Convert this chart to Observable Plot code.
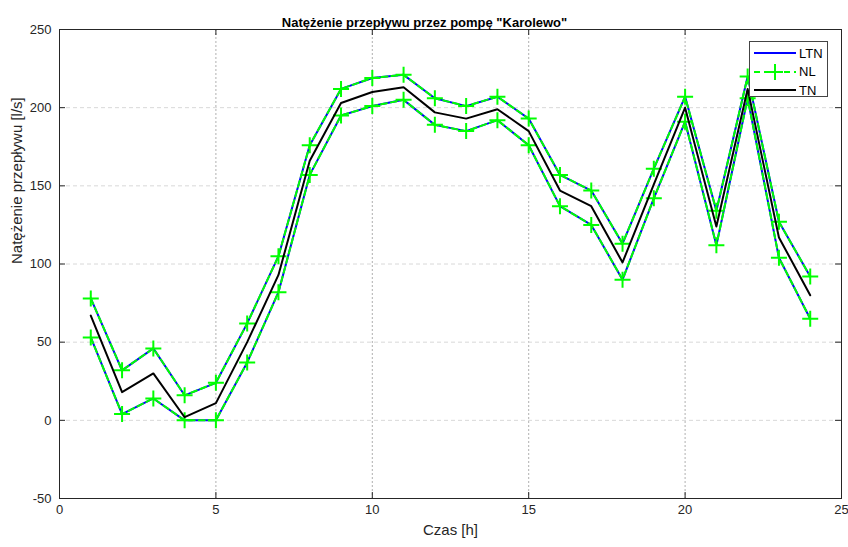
<!DOCTYPE html>
<html><head><meta charset="utf-8">
<script src="https://cdn.jsdelivr.net/npm/d3@7"></script>
<script src="https://cdn.jsdelivr.net/npm/@observablehq/plot@0.6"></script>
<style>
body{margin:0;background:#fff;font-family:"Liberation Sans",Arial,sans-serif;}
#wrap{position:relative;width:848px;height:547px;}
#legend{position:absolute;left:749px;top:41px;width:79px;height:56px;border:1px solid #444;background:#fff;box-sizing:border-box;font-size:13px;color:#000;}
#legend .row{position:absolute;left:3px;height:18px;display:flex;align-items:center;}
#legend svg{margin-right:2px;}
</style></head><body>
<div id="wrap"></div>
<script>
const hours = [1,2,3,4,5,6,7,8,9,10,11,12,13,14,15,16,17,18,19,20,21,22,23,24];
const ltnUpper = [78,32,46,16,24,62,105,176,212,219,221,206,201,207,193,157,147,113,161,207,134,220,127,92];
const ltnLower = [53,4,14,0,0,37,82,157,195,201,205,189,185,192,176,137,125,90,142,191,112,206,104,65];
const nlUpper = ltnUpper;
const nlLower = ltnLower;
const tn = [67,18,30,2,11,50,93,166,203,210,213,197,193,199,185,147,137,101,151,200,124,212,117,80];
const xTicks = [0,5,10,15,20,25];
const yTicks = [-50,0,50,100,150,200,250];
const title = 'Natężenie przepływu przez pompę "Karolewo"';
const xLabel = "Czas [h]";
const yLabel = "Natężenie przepływu [l/s]";
const series = [
  {name:"LTN", color:"#0000ff", dash:null, marker:false},
  {name:"NL", color:"#00ff00", dash:"6,4", marker:true},
  {name:"TN", color:"#000000", dash:null, marker:false}
];

const toRows = (vals) => hours.map((h,i)=>({x:h, y:vals[i]}));
const plusSymbol = {draw(ctx, size){const s=Math.sqrt(size/Math.PI); ctx.moveTo(-s,0); ctx.lineTo(s,0); ctx.moveTo(0,-s); ctx.lineTo(0,s);}};
const fmt = d => String(d);

const W=848,H=547,mL=59,mR=7,mT=29,mB=49;
const plotH = H-mT-mB;
const chart = Plot.plot({
  width: W, height: H,
  marginLeft: mL, marginRight: mR, marginTop: mT, marginBottom: mB,
  style: {fontFamily: '"Liberation Sans", Arial, sans-serif', fontSize: "13px", background: "#fff", color: "#262626"},
  x: {domain: [0,25]},
  y: {domain: [-50,250]},
  marks: [
    Plot.ruleX(xTicks.slice(1,-1), {stroke:"#b0b0b0", strokeDasharray:"2,2", strokeWidth:1}),
    Plot.ruleY(yTicks.slice(1,-1), {stroke:"#d8d8d8", strokeDasharray:"4,3", strokeWidth:1}),
    Plot.axisX(xTicks, {tickSize:0, tickPadding:6, fontSize:13, tickFormat: fmt, label: null}),
    Plot.axisY(yTicks, {tickSize:0, tickPadding:8, fontSize:13, tickFormat: fmt, label: null}),
    Plot.text([xLabel], {text:d=>d, frameAnchor:"bottom", dy:36, fontSize:15, fill:"#262626"}),
    Plot.text([yLabel], {text:d=>d, frameAnchor:"left", dx:-42, rotate:-90, fontSize:15, fill:"#262626"}),
    Plot.tickX(xTicks, {x:d=>d, insetTop: plotH-6, stroke:"#262626"}),
    Plot.tickX(xTicks, {x:d=>d, insetBottom: plotH-6, stroke:"#262626"}),
    Plot.tickY(yTicks, {y:d=>d, insetLeft: 0, insetRight: W-mL-mR-6, stroke:"#262626"}),
    Plot.tickY(yTicks, {y:d=>d, insetLeft: W-mL-mR-6, stroke:"#262626"}),
    Plot.line(toRows(ltnUpper), {x:"x", y:"y", stroke:"#0000ff", strokeWidth:2}),
    Plot.line(toRows(ltnLower), {x:"x", y:"y", stroke:"#0000ff", strokeWidth:2}),
    Plot.line(toRows(nlUpper), {x:"x", y:"y", stroke:"#00ff00", strokeWidth:2, strokeDasharray:"6,4"}),
    Plot.line(toRows(nlLower), {x:"x", y:"y", stroke:"#00ff00", strokeWidth:2, strokeDasharray:"6,4"}),
    Plot.dot(toRows(nlUpper), {x:"x", y:"y", symbol: plusSymbol, r:8, stroke:"#00ff00", strokeWidth:2, fill:"none"}),
    Plot.dot(toRows(nlLower), {x:"x", y:"y", symbol: plusSymbol, r:8, stroke:"#00ff00", strokeWidth:2, fill:"none"}),
    Plot.line(toRows(tn), {x:"x", y:"y", stroke:"#000000", strokeWidth:2}),
    Plot.frame({stroke:"#262626", strokeWidth:1}),
    Plot.text([title], {text:d=>d, frameAnchor:"top", dx:-26, dy:-12, fontSize:13, fontWeight:"bold", fill:"#000"})
  ]
});
const wrap = document.getElementById("wrap");
wrap.appendChild(chart);

const legend = document.createElement("div");
legend.id = "legend";
series.forEach((s,i)=>{
  const row = document.createElement("div");
  row.className = "row";
  row.style.top = (2 + i*18.5) + "px";
  const ns="http://www.w3.org/2000/svg";
  const svg = document.createElementNS(ns,"svg");
  svg.setAttribute("width","44"); svg.setAttribute("height","18");
  const ln = document.createElementNS(ns,"line");
  ln.setAttribute("x1","1"); ln.setAttribute("x2","43"); ln.setAttribute("y1","9"); ln.setAttribute("y2","9");
  ln.setAttribute("stroke", s.color); ln.setAttribute("stroke-width","2");
  if (s.dash) ln.setAttribute("stroke-dasharray", s.dash);
  svg.appendChild(ln);
  if (s.marker){
    const p = document.createElementNS(ns,"path");
    p.setAttribute("d","M14,9H30M22,1V17");
    p.setAttribute("stroke", s.color); p.setAttribute("stroke-width","2");
    svg.appendChild(p);
  }
  row.appendChild(svg);
  const t = document.createElement("span");
  t.textContent = s.name;
  row.appendChild(t);
  legend.appendChild(row);
});
wrap.appendChild(legend);
</script>
</body></html>
